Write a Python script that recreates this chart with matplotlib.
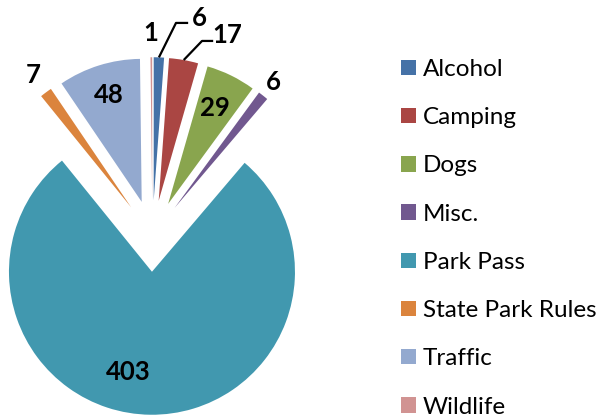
import numpy as np
import matplotlib
matplotlib.use('Agg')
import matplotlib.pyplot as plt

plt.rcParams['font.family'] = ['Lato', 'DejaVu Sans']

# ---------- data ----------
categories = ['Alcohol', 'Camping', 'Dogs', 'Misc.', 'Park Pass',
              'State Park Rules', 'Traffic', 'Wildlife']
counts = [6, 17, 29, 6, 403, 7, 48, 1]
colors = ['#4572A7', '#AA4643', '#89A54E', '#71588F', '#4198AF',
          '#DB843D', '#93A9CF', '#D19392']

# ---------- layout ----------
W, H = 600, 417
R_PX = 143.0                 # pie radius in pixels
CX, CY = 152.4, 236.0        # pie centre, pixels from top-left
EXPLODE = 0.25

# label placement: radial distance (fraction of radius) + angular shift (deg, ccw)
label_r = {'Dogs': 0.75, 'Misc.': 1.12, 'Park Pass': 0.72,
           'State Park Rules': 1.15, 'Traffic': 0.78, 'Wildlife': 1.17}
label_shift = {'Park Pass': -12.3}
# labels dragged off the slice, with elbow leader lines (axes data units)
moved = {
    'Alcohol': dict(text=(0.33, 1.525), elbow=(0.165, 1.49), end=(0.25, 1.49)),
    'Camping': dict(text=(0.525, 1.405), elbow=(0.347, 1.364), end=(0.425, 1.364)),
}

fig = plt.figure(figsize=(W / 100, H / 100), dpi=100)
ax = fig.add_axes([0, 0, 1, 1])
wedges, _ = ax.pie(counts, colors=colors, startangle=90, counterclock=False,
                   explode=[EXPLODE] * len(counts), radius=1,
                   wedgeprops=dict(linewidth=0))
ax.set_aspect('auto')
ax.set_xlim(-CX / R_PX, (W - CX) / R_PX)
ax.set_ylim(-(H - CY) / R_PX, CY / R_PX)
ax.axis('off')

lab_kw = dict(fontsize=18.5, fontweight='bold', ha='center', va='center',
              color='black')
for w, name, val in zip(wedges, categories, counts):
    mid = np.deg2rad((w.theta1 + w.theta2) / 2)
    cx, cy = w.center
    if name in moved:
        m = moved[name]
        ex, ey = cx + np.cos(mid), cy + np.sin(mid)
        ax.plot([ex, m['elbow'][0], m['end'][0]],
                [ey, m['elbow'][1], m['end'][1]], color='black', lw=1.6,
                solid_capstyle='butt')
        ax.text(*m['text'], str(val), **lab_kw)
        continue
    a = mid + np.deg2rad(label_shift.get(name, 0))
    r = label_r[name]
    ax.text(cx + r * np.cos(a), cy + r * np.sin(a), str(val), **lab_kw)

ax.legend(wedges, categories, loc='upper left',
          bbox_to_anchor=(401 / W, 1 - 59 / H), frameon=False,
          fontsize=17.5, borderpad=0, borderaxespad=0,
          handlelength=0.6, handleheight=0.6, handletextpad=0.3,
          labelspacing=1.12)

fig.savefig('out.png', dpi=100)
